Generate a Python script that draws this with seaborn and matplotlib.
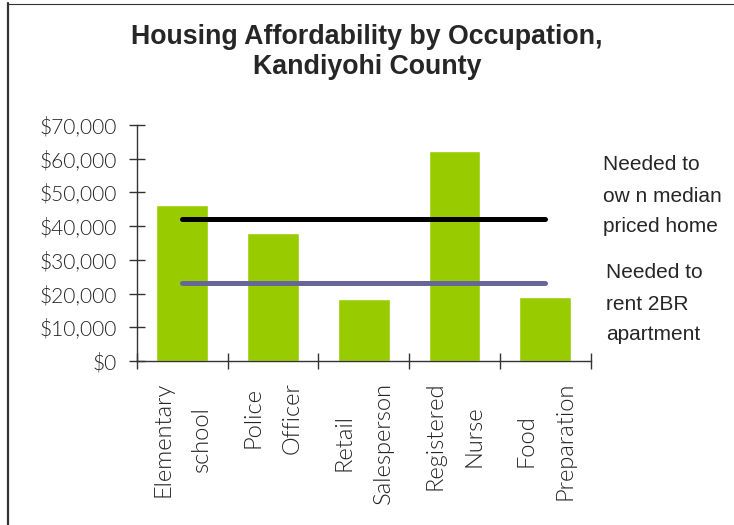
import matplotlib
matplotlib.use("Agg")
import matplotlib.pyplot as plt
from matplotlib.lines import Line2D
from matplotlib.ticker import FuncFormatter, FixedLocator
import seaborn as sns
import pandas as pd

# Housing affordability by occupation, Kandiyohi County
occupations = ["Elementary\nschool", "Police\nOfficer", "Retail\nSalesperson",
               "Registered\nNurse", "Food\nPreparation"]
wages = [46300, 38000, 18400, 62400, 19100]
own_needed = 42000
rent_needed = 23100
own_label = "Needed to\now n median\npriced home"
rent_label = "Needed to\nrent 2BR\napartment"

df = pd.DataFrame({"occupation": occupations, "wage": wages})

sns.set_style("white")
plt.rcParams["font.family"] = ["Lato", "DejaVu Sans"]

W, H = 734, 525
fig = plt.figure(figsize=(W / 100, H / 100), dpi=100)
ax = fig.add_axes([136.7 / W, 1 - 361 / H, (590.7 - 136.7) / W, (361 - 125) / H])

sns.barplot(data=df, x="occupation", y="wage", color="#99cc00", width=0.57,
            saturation=1, ax=ax)

# reference lines across the categories
first, last = 0, len(occupations) - 1
ax.plot([first, last], [own_needed, own_needed], color="black", lw=3.6,
        solid_capstyle="round", zorder=3)
ax.plot([first, last], [rent_needed, rent_needed], color="#666699", lw=3.6,
        solid_capstyle="round", zorder=3)

ax.set_xlim(-0.5, len(occupations) - 0.5)
ax.set_ylim(0, 70000)
ax.set_yticks(range(0, 70001, 10000))
ax.yaxis.set_major_formatter(FuncFormatter(lambda v, p: f"${v:,.0f}"))
ax.set_xlabel("")
ax.set_ylabel("")

for s in ["top", "right"]:
    ax.spines[s].set_visible(False)
for s in ["left", "bottom"]:
    ax.spines[s].set_color("#333333")
    ax.spines[s].set_linewidth(1.0)

ax.tick_params(axis="y", left=True, direction="inout", length=11.5, width=1.0,
               color="#333333", pad=8.6, labelsize=15, labelcolor="#222222")
for lab in ax.get_yticklabels():
    lab.set_fontweight(300)
ax.set_xticks(range(len(occupations)))
ax.xaxis.set_minor_locator(FixedLocator([i - 0.5 for i in range(len(occupations) + 1)]))
ax.tick_params(axis="x", which="major", bottom=False, length=0, pad=15)
ax.tick_params(axis="x", which="minor", bottom=True, direction="inout", length=11,
               width=1.0, color="#333333")
ax.set_xticklabels(occupations, rotation=90, ha="center", va="top",
                   multialignment="center", linespacing=2.05,
                   fontsize=17, fontweight=300, color="#222222")

# title
fig.text(0.5, 1 - 51.5 / H, "Housing Affordability by Occupation,\nKandiyohi County",
         ha="center", va="center", multialignment="center", linespacing=1.2,
         fontsize=19.3, fontweight="bold", family=["Liberation Sans", "DejaVu Sans"])

# line labels
fig.text(603 / W, 1 - 196 / H, own_label, ha="left", va="center", linespacing=1.8,
         fontsize=15, family=["Liberation Sans", "DejaVu Sans"])
fig.text(605.7 / W, 1 - 304 / H, rent_label, ha="left", va="center", linespacing=1.8,
         fontsize=15, family=["Liberation Sans", "DejaVu Sans"])

# outer frame (left and top edges only)
fig.add_artist(Line2D([7.5 / W, 7.5 / W], [0, 1 - 3 / H], transform=fig.transFigure,
                      color="#333333", lw=1.6))
fig.add_artist(Line2D([7 / W, 1], [1 - 3.5 / H, 1 - 3.5 / H], transform=fig.transFigure,
                      color="#333333", lw=0.8))

fig.savefig("out.png", dpi=100)
